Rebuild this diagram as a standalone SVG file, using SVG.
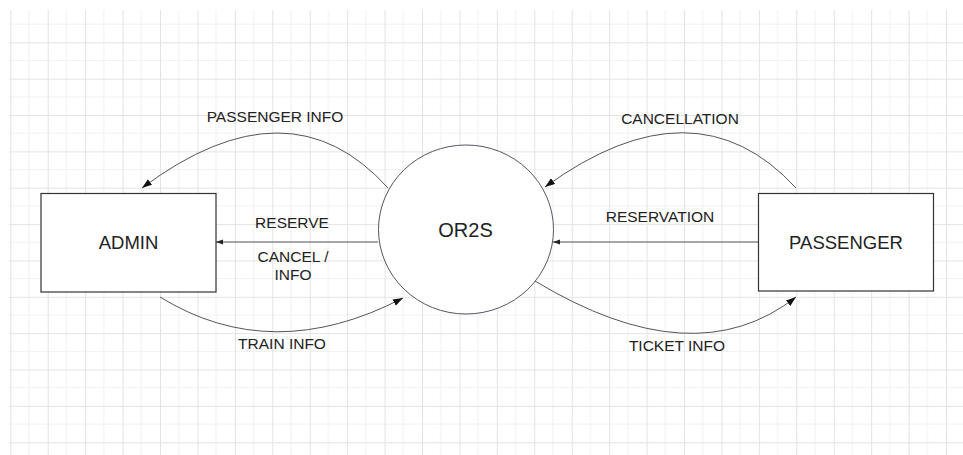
<svg xmlns="http://www.w3.org/2000/svg" width="963" height="455" viewBox="0 0 963 455">
<style>
.lbl{font-family:"Liberation Sans",Arial,sans-serif;font-size:15.5px;fill:#222;text-anchor:middle}
.big{font-family:"Liberation Sans",Arial,sans-serif;font-size:18.5px;fill:#222;text-anchor:middle}
.box{fill:#fff;stroke:#333;stroke-width:1.2}
.edge{fill:none;stroke:#555;stroke-width:1}
</style>
<defs>
<pattern id="grid" patternUnits="userSpaceOnUse" x="10.27" y="5.94" width="37.43" height="36.36">
<rect width="37.43" height="36.36" fill="#fff"/>
<line x1="18.7" y1="0" x2="18.7" y2="36.36" stroke="#f1f1f1" stroke-width="1"/>
<line x1="0" y1="18.18" x2="37.43" y2="18.18" stroke="#f1f1f1" stroke-width="1"/>
<line x1="0.5" y1="0" x2="0.5" y2="36.36" stroke="#e3e3e3" stroke-width="1"/>
<line x1="0" y1="0.5" x2="37.43" y2="0.5" stroke="#e3e3e3" stroke-width="1"/>
</pattern>
<marker id="ah" markerUnits="userSpaceOnUse" markerWidth="11" markerHeight="8" refX="10" refY="3.5" orient="auto">
<path d="M0,0 L10,3.5 L0,7 z" fill="#111"/>
</marker>
<marker id="ahs" markerUnits="userSpaceOnUse" markerWidth="8" markerHeight="6" refX="7" refY="2.5" orient="auto">
<path d="M0,0 L7,2.5 L0,5 z" fill="#222"/>
</marker>
</defs>
<rect width="963" height="455" fill="#fff"/>
<rect x="9" y="10" width="954" height="445" fill="url(#grid)"/>
<g id="connectors">
<path class="edge" d="M388,188 Q289,78 142,188" marker-end="url(#ah)"/>
<path class="edge" d="M796,188 Q695,78 545,187" marker-end="url(#ah)"/>
<path class="edge" d="M160,297 Q272,366 403,298" marker-end="url(#ah)"/>
<path class="edge" d="M535,281 Q694,377 796,297" marker-end="url(#ah)"/>
<path class="edge" d="M378,242 L216,242" marker-end="url(#ahs)"/>
<path class="edge" d="M758,242 L553,242" marker-end="url(#ahs)"/>
<text class="lbl" x="275" y="122">PASSENGER INFO</text>
<text class="lbl" x="680" y="124">CANCELLATION</text>
<text class="lbl" x="292" y="228">RESERVE</text>
<text class="lbl" x="293" y="262">CANCEL /</text>
<text class="lbl" x="293" y="280">INFO</text>
<text class="lbl" x="660" y="222">RESERVATION</text>
<text class="lbl" x="282" y="349">TRAIN INFO</text>
<text class="lbl" x="677" y="351">TICKET INFO</text>
</g>
<g id="admin">
<rect class="box" x="41" y="193.5" width="175" height="98.5"/>
<text class="big" x="128.5" y="249">ADMIN</text>
</g>
<g id="or2s">
<ellipse cx="466" cy="229.5" rx="87.5" ry="84.5" fill="#fff" stroke="#556" stroke-width="1"/>
<text class="big" style="font-size:20px" x="465.5" y="237">OR2S</text>
</g>
<g id="passenger">
<rect class="box" x="758.5" y="193.5" width="175" height="97.5"/>
<text class="big" x="846" y="249">PASSENGER</text>
</g>
</svg>
